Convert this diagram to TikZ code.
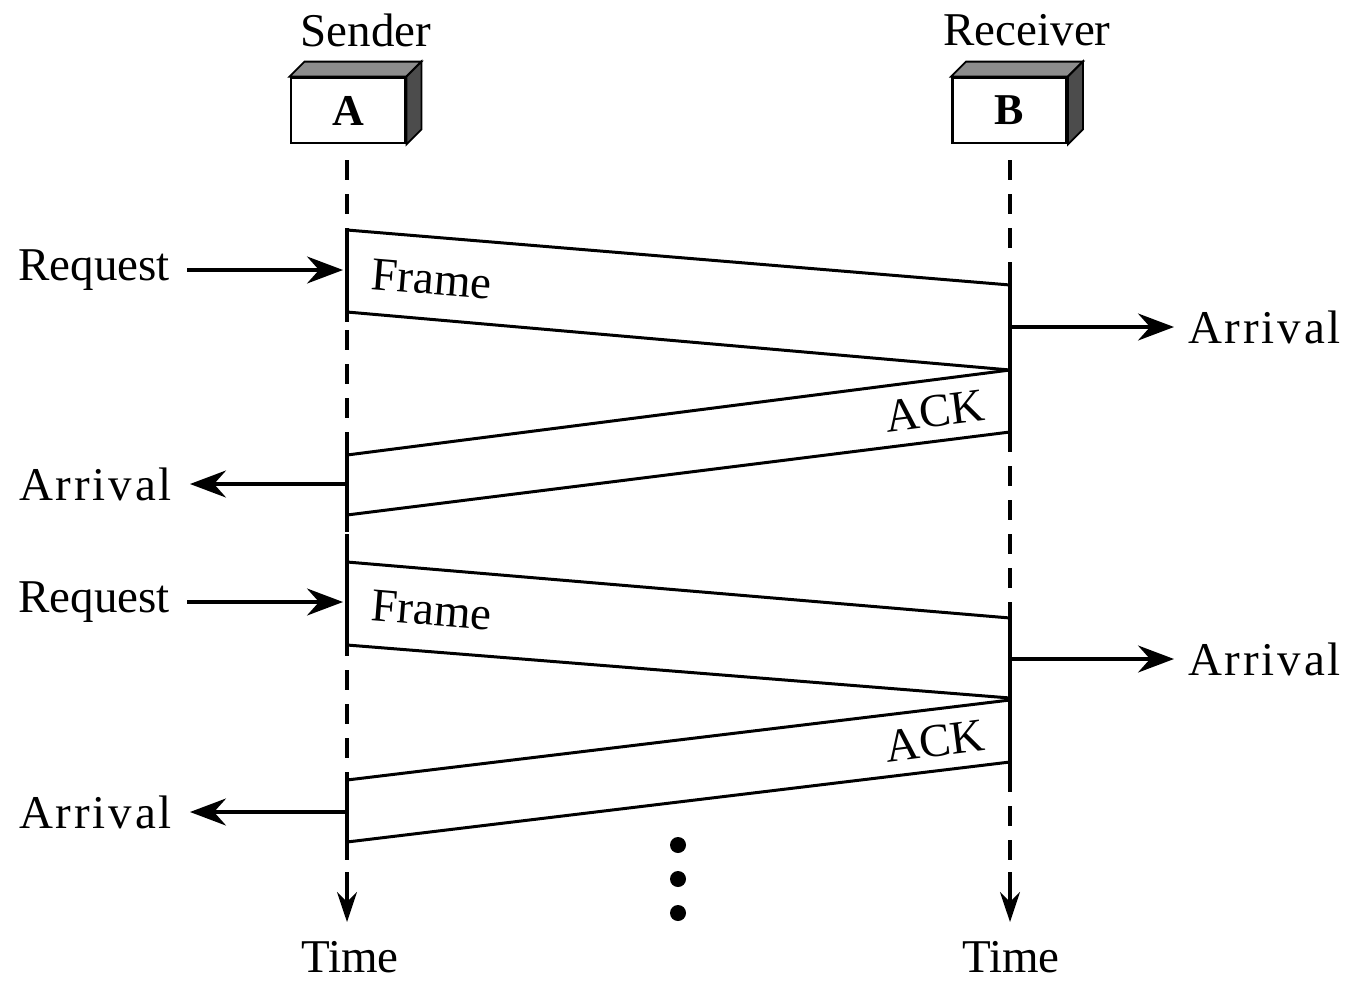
\documentclass[tikz,border=0pt]{standalone}
\usepackage{fontspec}
\setmainfont{Liberation Serif}
\usetikzlibrary{arrows.meta}
\begin{document}
\begin{tikzpicture}[x=1pt,y=-1pt,
  lbl/.style={font=\fontsize{47}{52}\selectfont, inner sep=0pt},
  wide/.style={font=\fontsize{47}{52}\selectfont\addfontfeature{LetterSpace=6}, inner sep=0pt},
  station/.style={draw, line width=2.8pt, fill=white, minimum width=114pt, minimum height=65pt,
    inner sep=0pt, font=\fontsize{44}{48}\selectfont\bfseries},
  lifeline/.style={line width=3.4pt, dash pattern=on 20pt off 14pt},
  busy/.style={line width=3.4pt},
  msg/.style={line width=3pt},
  evt/.style={line width=3.2pt, -{Stealth[length=36pt,width=27pt,inset=12pt]}},
  timetip/.style={line width=3.2pt, -{Stealth[length=30pt,width=20pt,inset=10pt]}}]
\useasboundingbox (0,0) rectangle (1348,980);

% stations
\node[lbl] (sender) at (366,30) {Sender};
\node[lbl] (receiver) at (1027,30) {Receiver};
\node[station] (A) at (348,110.5) {A};
\node[station] (B) at (1009.5,110.5) {B};
\foreach \s in {A,B}{
  \filldraw[line width=1.8pt, fill=black!45] (\s.north west) -- ++(15,-15) -- ([shift={(15,-15)}]\s.north east) -- (\s.north east) -- cycle;
  \filldraw[line width=1.8pt, fill=black!70] (\s.north east) -- ++(15,-15) -- ([shift={(15,-15)}]\s.south east) -- (\s.south east) -- cycle;
}

% time axes
\node[lbl] (timeA) at (350,957) {Time};
\node[lbl] (timeB) at (1011,957) {Time};
\coordinate (sa0) at (347,160);
\coordinate (sa1) at (347,922);
\coordinate (rb0) at (1010,160);
\coordinate (rb1) at (1010,922);
\draw[lifeline] (sa0) -- (347,872);
\draw[lifeline] (rb0) -- (1010,872);
\draw[timetip] (347,872) -- (sa1);
\draw[timetip] (1010,872) -- (rb1);

% busy periods on the lifelines
\draw[busy] (347,228) -- (347,322);
\draw[busy] (347,448) -- (347,532);
\draw[busy] (347,550) -- (347,650);
\draw[busy] (347,775) -- (347,846);
\draw[busy] (1010,270) -- (1010,436);
\draw[busy] (1010,612) -- (1010,772);

% first exchange
\coordinate (f1a) at (347,230);  \coordinate (f1b) at (1010,285);
\coordinate (f1c) at (347,312);  \coordinate (f1d) at (1010,370);
\draw[msg] (f1a) -- (f1b);
\draw[msg] (f1c) -- (f1d);
\node[lbl, rotate=-4.7] (frame1) at (432,279) {Frame};
\coordinate (a1a) at (1010,370); \coordinate (a1b) at (347,455);
\coordinate (a1c) at (1010,432); \coordinate (a1d) at (347,515);
\draw[msg] (a1a) -- (a1b);
\draw[msg] (a1c) -- (a1d);
\node[lbl, rotate=7.3] (ack1) at (935,411) {ACK};

\node[lbl, anchor=east] (req1) at (170,270) {Request};
\coordinate (req1end) at (343,270);
\draw[evt] ([xshift=17pt]req1.east) -- (req1end);
\node[wide, anchor=west] (arrR1) at (1188,327) {Arrival};
\coordinate (arrR1start) at (1010,327);
\draw[evt] (arrR1start) -- ([xshift=-14pt]arrR1.west);
\node[wide, anchor=east] (arrL1) at (172,484) {Arrival};
\coordinate (arrL1start) at (347,484);
\draw[evt] (arrL1start) -- ([xshift=18pt]arrL1.east);

% second exchange
\coordinate (f2a) at (347,562);  \coordinate (f2b) at (1010,618);
\coordinate (f2c) at (347,645);  \coordinate (f2d) at (1010,698);
\draw[msg] (f2a) -- (f2b);
\draw[msg] (f2c) -- (f2d);
\node[lbl, rotate=-4.7] (frame2) at (432,610) {Frame};
\coordinate (a2a) at (1010,700); \coordinate (a2b) at (347,780);
\coordinate (a2c) at (1010,762); \coordinate (a2d) at (347,842);
\draw[msg] (a2a) -- (a2b);
\draw[msg] (a2c) -- (a2d);
\node[lbl, rotate=7.3] (ack2) at (935,741) {ACK};

\node[lbl, anchor=east] (req2) at (170,602) {Request};
\coordinate (req2end) at (343,602);
\draw[evt] ([xshift=17pt]req2.east) -- (req2end);
\node[wide, anchor=west] (arrR2) at (1188,659) {Arrival};
\coordinate (arrR2start) at (1010,659);
\draw[evt] (arrR2start) -- ([xshift=-14pt]arrR2.west);
\node[wide, anchor=east] (arrL2) at (172,812) {Arrival};
\coordinate (arrL2start) at (347,812);
\draw[evt] (arrL2start) -- ([xshift=18pt]arrL2.east);

% continuation dots
\foreach \y/\n in {845/d1,879/d2,913/d3}
  \fill (678,\y) circle (8pt) coordinate (\n);
\end{tikzpicture}
\end{document}
